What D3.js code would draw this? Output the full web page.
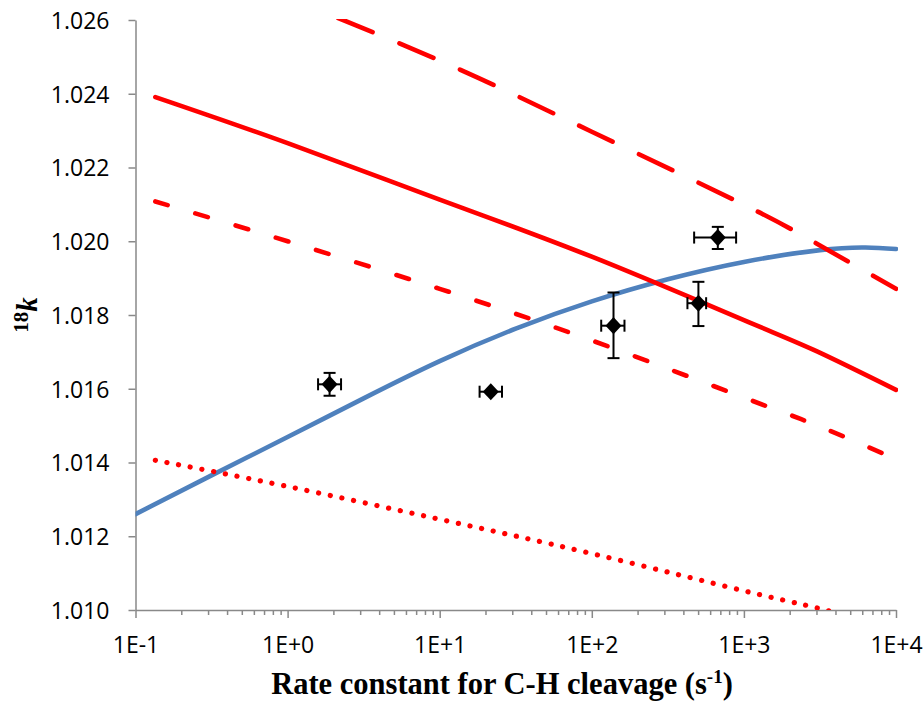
<!DOCTYPE html>
<html>
<head>
<meta charset="utf-8">
<script src="https://cdn.jsdelivr.net/npm/d3@7"></script>
<style>
  body { margin: 0; background: #fff; }
  .tick text { font-family: "Open Sans", sans-serif; font-size: 23px; fill: #000; }
</style>
</head>
<body>
<div id="graph_box"></div>
<script>
// values
const xTickValues = [0.1, 1, 10, 100, 1000, 10000];
const xTickLabels = ["1E-1", "1E+0", "1E+1", "1E+2", "1E+3", "1E+4"];
const yTickValues = [1.010, 1.012, 1.014, 1.016, 1.018, 1.020, 1.022, 1.024, 1.026];

// red model curves
const redK = [0.135, 1, 10, 100, 1000, 3000, 10000];
const redSolid = [1.02391, 1.02266, 1.02113, 1.01958, 1.01786, 1.01702, 1.01597];
const redLongDash = [1.02810, 1.02661, 1.02490, 1.02297, 1.02099, 1.01994, 1.01871];
const redDash = [1.02108, 1.02000, 1.01871, 1.01731, 1.01576, 1.01501, 1.01409];
const redDot = [1.01406, 1.01335, 1.01246, 1.01153, 1.01052, 1.01006, 1.00950];

// blue curve
const blueK = [0.1, 0.316, 1, 3.16, 10, 31.6, 100, 316, 1000, 3160, 6300, 10000];
const blueKIE = [1.01260, 1.01365, 1.01469, 1.01574, 1.01675, 1.01763, 1.01837, 1.01897, 1.01944, 1.01976, 1.01983, 1.01979];

// measured points
const ptK = [1.888, 21.67, 138.9, 502.3, 673.7];
const ptKLow = [1.586, 18.29, 115.3, 425.3, 470.8];
const ptKHigh = [2.246, 25.67, 164.0, 564.5, 888.8];
const ptKIE = [1.01612, 1.01592, 1.01771, 1.01832, 1.02010];
const ptKIELow = [1.01581, 1.01592, 1.01683, 1.01770, 1.01979];
const ptKIEHigh = [1.01643, 1.01592, 1.01861, 1.01890, 1.02039];

const W = 924, H = 705;
const margin = { top: 20, right: 28, bottom: 95, left: 135.5 };
const width = W - margin.left - margin.right,
    height = H - margin.top - margin.bottom;

const svg = d3.select("#graph_box")
    .append("svg")
    .attr("width", W)
    .attr("height", H)
    .append("g")
    .attr("transform", `translate(${margin.left},${margin.top})`);

const x = d3.scaleLog().domain([0.1, 10000]).range([0, width]);
const y = d3.scaleLinear().domain([1.010, 1.026]).range([height, 0]);

svg.append("clipPath").attr("id", "plotclip")
    .append("rect").attr("x", 0).attr("y", -1).attr("width", width + 2).attr("height", height + 1);

// minor x ticks
const minor = [];
for (let e = -1; e < 4; e++) for (let m = 2; m <= 9; m++) minor.push(m * Math.pow(10, e));

const axisColor = "#898989";

svg.append("g")
    .attr("class", "x-minor")
    .attr("transform", `translate(0,${height})`)
    .call(d3.axisBottom(x).tickValues(minor).tickSize(5).tickFormat("").tickSizeOuter(0))
    .call(g => g.select(".domain").remove())
    .call(g => g.selectAll("line").attr("stroke", axisColor).attr("stroke-width", 1.5));

svg.append("g")
    .attr("class", "x-axis")
    .attr("transform", `translate(0,${height})`)
    .call(d3.axisBottom(x).tickValues(xTickValues).tickSize(8).tickPadding(19)
        .tickFormat((d, i) => xTickLabels[i]).tickSizeOuter(0))
    .call(g => g.select(".domain").attr("stroke", axisColor).attr("stroke-width", 1.5))
    .call(g => g.selectAll("line").attr("stroke", axisColor).attr("stroke-width", 1.5));

svg.append("g")
    .attr("class", "y-axis")
    .call(d3.axisLeft(y).tickValues(yTickValues).tickSize(7).tickPadding(19)
        .tickFormat(d3.format(".3f")).tickSizeOuter(0))
    .call(g => g.select(".domain").attr("stroke", axisColor).attr("stroke-width", 1.5))
    .call(g => g.selectAll("line").attr("stroke", axisColor).attr("stroke-width", 1.5))
    .call(g => g.selectAll("text").attr("dy", "0.36em"));

const plot = svg.append("g").attr("clip-path", "url(#plotclip)");

function drawCurve(ks, vals, color, dash, sw) {
    const pts = ks.map((k, i) => [x(k), y(vals[i])]);
    plot.append("path")
        .attr("d", d3.line().curve(d3.curveNatural)(pts))
        .attr("fill", "none")
        .attr("stroke", color)
        .attr("stroke-width", sw || 4.6)
        .attr("stroke-linecap", "round")
        .attr("stroke-dasharray", dash);
}

drawCurve(blueK, blueKIE, "#4F81BD", null);
drawCurve(redK, redSolid, "#FF0000", null);
drawCurve(redK, redLongDash, "#FF0000", "37,29");
drawCurve(redK, redDash, "#FF0000", "13,29");
drawCurve(redK, redDot, "#FF0000", "0.1,11.8", 5.2);

// diamond marker, a bit taller than wide
const diamond = {
    draw(ctx, size) {
        const w = Math.sqrt(size) / 2, h = w * 15 / 14;
        ctx.moveTo(0, -h);
        ctx.lineTo(w, 0);
        ctx.lineTo(0, h);
        ctx.lineTo(-w, 0);
        ctx.closePath();
    }
};

// error bars and diamonds
const pts = svg.append("g");
const cap = 6;
ptK.forEach((k, i) => {
    const cx = x(k), cy = y(ptKIE[i]);
    const xl = x(ptKLow[i]), xh = x(ptKHigh[i]);
    const yl = y(ptKIELow[i]), yh = y(ptKIEHigh[i]);
    const g = pts.append("g").attr("stroke", "#000").attr("stroke-width", 2).attr("fill", "none");
    g.append("line").attr("x1", xl).attr("x2", xh).attr("y1", cy).attr("y2", cy);
    g.append("line").attr("x1", xl).attr("x2", xl).attr("y1", cy - cap).attr("y2", cy + cap);
    g.append("line").attr("x1", xh).attr("x2", xh).attr("y1", cy - cap).attr("y2", cy + cap);
    if (Math.abs(yh - yl) > 1) {
        g.append("line").attr("x1", cx).attr("x2", cx).attr("y1", yl).attr("y2", yh);
        g.append("line").attr("x1", cx - cap).attr("x2", cx + cap).attr("y1", yl).attr("y2", yl);
        g.append("line").attr("x1", cx - cap).attr("x2", cx + cap).attr("y1", yh).attr("y2", yh);
    }
    pts.append("path")
        .attr("d", d3.symbol().type(diamond).size(256)())
        .attr("transform", `translate(${cx},${cy})`)
        .attr("fill", "#000");
});

// axis titles
svg.append("text")
    .attr("x", 502 - margin.left)
    .attr("y", 694 - margin.top)
    .attr("text-anchor", "middle")
    .style("font-family", "'Liberation Serif', 'Times New Roman', serif")
    .style("font-weight", "bold")
    .style("font-size", "30.5px")
    .call(t => {
        t.append("tspan").text("Rate constant for C-H cleavage (s");
        t.append("tspan").text("-1").style("font-size", "19px").attr("dy", -11);
        t.append("tspan").text(")").attr("dy", 11);
    });

svg.append("text")
    .attr("transform", `translate(${37 - margin.left},${315 - margin.top}) rotate(-90)`)
    .attr("text-anchor", "middle")
    .style("font-family", "'Liberation Serif', 'Times New Roman', serif")
    .style("font-weight", "bold")
    .call(t => {
        t.append("tspan").text("18").style("font-size", "21px").attr("dy", -9);
        t.append("tspan").text("k").style("font-size", "29px").style("font-style", "italic").attr("dy", 9);
    });
</script>
</body>
</html>
